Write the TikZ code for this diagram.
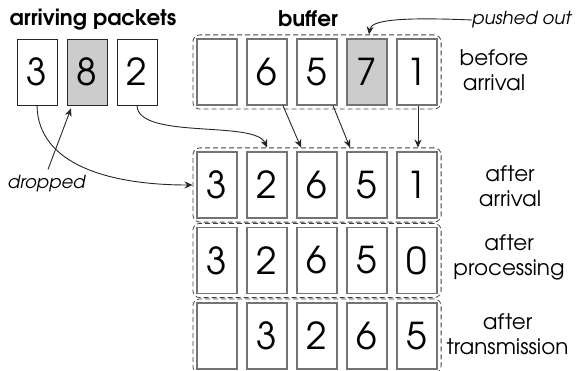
\documentclass[tikz,border=0pt]{standalone}
\usepackage{fontspec}
\setmainfont{TeX Gyre Adventor}
\usetikzlibrary{fit,calc,arrows.meta}
\begin{document}
\begin{tikzpicture}[x=1pt,y=-1pt,
  cell/.style={draw=black!55,line width=1.2pt,minimum width=40pt,minimum height=66pt,inner sep=0pt,font=\fontsize{37}{37}\selectfont},
  pkt/.style={draw=black!85,line width=0.9pt,minimum width=40pt,minimum height=66pt,inner sep=0pt,font=\fontsize{37}{37}\selectfont},
  shade/.style={fill=black!20},
  cont/.style={draw=black!75,line width=0.8pt,dash pattern=on 5pt off 3pt,rounded corners=7pt,inner sep=3.5pt},
  lbl/.style={align=center,inner sep=0pt,font=\fontsize{21.5}{25}\selectfont},
  ttl/.style={inner sep=0pt,font=\fontsize{21.5}{24}\selectfont\bfseries},
  note/.style={inner sep=0pt,font=\fontsize{18}{20}\selectfont\itshape},
  arr/.style={draw=black!85,line width=0.9pt,-{Stealth[length=8pt,width=7pt]}}]
\useasboundingbox (0,0) rectangle (577,371);
% titles
\node[ttl] (t1) at (93,20) {arriving packets};
\node[ttl] (t2) at (308,19) {buffer};
\node[note,anchor=west] (po) at (472,20) {pushed out};
\node[note] (dr) at (46.5,184) {dropped};
% packets
\node[pkt] (p1) at (37,72) {3};
\node[pkt,shade] (p2) at (87,72) {8};
\node[pkt] (p3) at (137,72) {2};
% buffer rows
\node[cell] (a1) at (217,72) {};
\node[cell] (a2) at (267,72) {6};
\node[cell] (a3) at (317,72) {5};
\node[cell,shade] (a4) at (367,72) {7};
\node[cell] (a5) at (417,72) {1};
\node[cell] (b1) at (217,185) {3};
\node[cell] (b2) at (267,185) {2};
\node[cell] (b3) at (317,185) {6};
\node[cell] (b4) at (367,185) {5};
\node[cell] (b5) at (417,185) {1};
\node[cell] (c1) at (217,260.5) {3};
\node[cell] (c2) at (267,260.5) {2};
\node[cell] (c3) at (317,260.5) {6};
\node[cell] (c4) at (367,260.5) {5};
\node[cell] (c5) at (417,260.5) {0};
\node[cell] (d1) at (217,336) {};
\node[cell] (d2) at (267,336) {3};
\node[cell] (d3) at (317,336) {2};
\node[cell] (d4) at (367,336) {6};
\node[cell] (d5) at (417,336) {5};
% containers
\node[cont,fit=(a1)(a5)] (ra) {};
\node[cont,fit=(b1)(b5)] (rb) {};
\node[cont,fit=(c1)(c5)] (rc) {};
\node[cont,fit=(d1)(d5)] (rd) {};
% row labels
\node[lbl] (la) at (494,70) {before\\arrival};
\node[lbl] (lb) at (510,186) {after\\arrival};
\node[lbl] (lc) at (509,257) {after\\processing};
\node[lbl] (ld) at (507.5,334) {after\\transmission};
% arrows
\draw[arr] (po.west) .. controls (400,17) and (371,20) .. ($(a4.north |- ra.north)+(2,0)$);
\draw[arr] ([shift={(1.5,-6)}]dr.north) -- ([shift={(-16,3)}]p2.south);
\draw[arr] (p1.south) .. controls (38,165) and (110,185) .. (rb.west |- b1);
\draw[arr] (p3.south) .. controls (138,140) and (255,120) .. (b2.north |- rb.north);
\draw[arr] ([xshift=16pt]a2.south) -- ($(b3.north |- rb.north)+(-16,0)$);
\draw[arr] ([xshift=16pt]a3.south) -- ($(b4.north |- rb.north)+(-17,0)$);
\draw[arr] ([xshift=1pt]a5.south) -- ($(b5.north |- rb.north)+(1,0)$);
\end{tikzpicture}
\end{document}
